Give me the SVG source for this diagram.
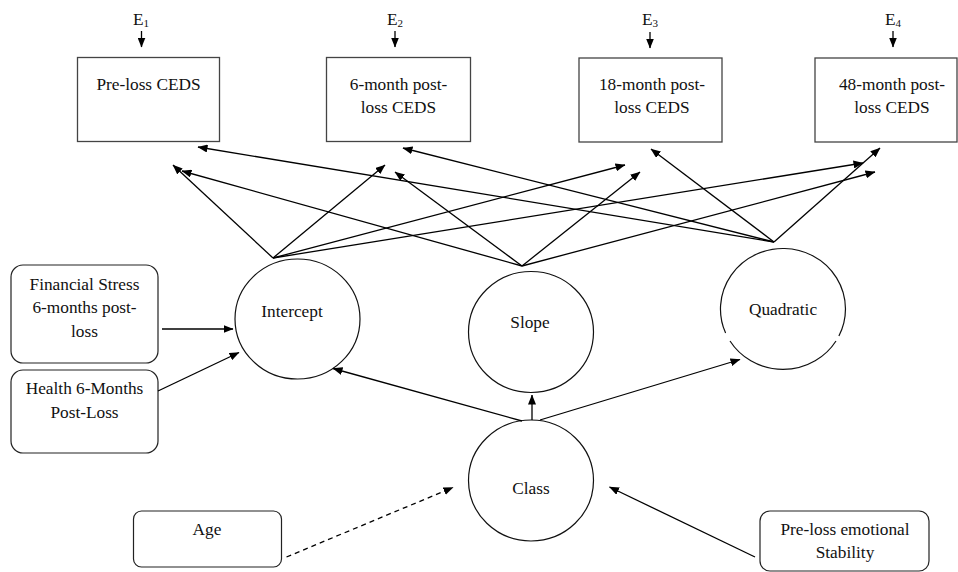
<svg xmlns="http://www.w3.org/2000/svg" width="958" height="572" viewBox="0 0 958 572">
<defs>
<style>
text{font-family:"Liberation Serif","Times New Roman",serif;font-size:17.3px;fill:#111;text-anchor:middle}
.sub{font-size:11px}
.box{fill:#fff;stroke:#444;stroke-width:1.3}
.rbox{fill:#fff;stroke:#222;stroke-width:1.2}
.lat{fill:#fff;stroke:#111;stroke-width:1.2}
.c line{stroke:#000;stroke-width:1.3;marker-end:url(#ah)}
.c line.d{stroke-dasharray:5,4}
</style>
<marker id="ah" viewBox="0 0 10 8" refX="9.5" refY="4" markerWidth="10" markerHeight="8" markerUnits="userSpaceOnUse" orient="auto">
<path d="M0,0 L10,4 L0,8 z" fill="#000"/>
</marker>
</defs>
<rect width="958" height="572" fill="#fff"/>

<g id="e1"><text x="141" y="25">E<tspan class="sub" dy="2">1</tspan></text></g>
<g id="e2"><text x="395" y="25">E<tspan class="sub" dy="2">2</tspan></text></g>
<g id="e3"><text x="650" y="25">E<tspan class="sub" dy="2">3</tspan></text></g>
<g id="e4"><text x="893" y="25">E<tspan class="sub" dy="2">4</tspan></text></g>

<g id="preloss-ceds"><rect class="box" x="77.5" y="57.5" width="142" height="84"/><text x="148.5" y="89.5">Pre-loss CEDS</text></g>
<g id="m6-ceds"><rect class="box" x="326.5" y="57.5" width="144" height="84"/><text x="398.5" y="89.5">6-month post-</text><text x="398.5" y="112.5">loss CEDS</text></g>
<g id="m18-ceds"><rect class="box" x="579" y="58" width="143" height="84"/><text x="652" y="90">18-month post-</text><text x="652" y="112.5">loss CEDS</text></g>
<g id="m48-ceds"><rect class="box" x="815" y="58" width="142" height="84"/><text x="892" y="90">48-month post-</text><text x="892" y="112.5">loss CEDS</text></g>

<g id="intercept"><ellipse class="lat" cx="297.5" cy="319" rx="62.5" ry="60"/><text x="292" y="317">Intercept</text></g>
<g id="slope"><ellipse class="lat" cx="531" cy="332" rx="62.5" ry="60.5"/><text x="530" y="328">Slope</text></g>
<g id="quadratic"><path class="lat" fill="none" d="M836,341 A62.5,60.5 0 0 1 730,341 M725.6,333 A62.5,60.5 0 1 1 838.9,336"/><text x="783" y="315">Quadratic</text></g>
<g id="class"><ellipse class="lat" cx="531" cy="480.5" rx="62.5" ry="60.5"/><text x="531" y="494">Class</text></g>

<g id="financial-stress"><rect class="rbox" x="11" y="265" width="147" height="98" rx="12"/><text x="84.5" y="290">Financial Stress</text><text x="84.5" y="313">6-months post-</text><text x="84.5" y="336.5">loss</text></g>
<g id="health"><rect class="rbox" x="11" y="370" width="147" height="83" rx="12"/><text x="84.5" y="394">Health 6-Months</text><text x="84.5" y="417.5">Post-Loss</text></g>
<g id="age"><rect class="rbox" x="133.5" y="511" width="148" height="56" rx="8"/><text x="207" y="535">Age</text></g>
<g id="emotional-stability"><rect class="rbox" x="760" y="511" width="169" height="60" rx="10"/><text x="845" y="535">Pre-loss emotional</text><text x="845" y="558">Stability</text></g>

<g id="connectors" class="c">
<line x1="141.5" y1="31" x2="141.5" y2="47"/>
<line x1="395" y1="31" x2="395" y2="47"/>
<line x1="650" y1="32" x2="650" y2="48"/>
<line x1="893" y1="31" x2="893" y2="47"/>

<line x1="273" y1="258" x2="173" y2="165"/>
<line x1="273" y1="258" x2="385" y2="165"/>
<line x1="273" y1="258" x2="625" y2="165"/>
<line x1="273" y1="258" x2="863" y2="163"/>

<line x1="522" y1="266" x2="182" y2="171"/>
<line x1="522" y1="266" x2="395" y2="172"/>
<line x1="522" y1="266" x2="640" y2="172"/>
<line x1="522" y1="266" x2="875" y2="172"/>

<line x1="774" y1="242" x2="198" y2="147"/>
<line x1="774" y1="242" x2="403" y2="148"/>
<line x1="774" y1="242" x2="651" y2="149"/>
<line x1="774" y1="242" x2="880" y2="148"/>

<line x1="162" y1="329" x2="233" y2="329"/>
<line x1="158" y1="391" x2="239" y2="352.5"/>

<line x1="522" y1="421" x2="333" y2="368.5"/>
<line x1="532" y1="420" x2="532" y2="395"/>
<line x1="540" y1="420" x2="740" y2="359.5"/>

<line class="d" x1="286.5" y1="557" x2="453" y2="487.5"/>
<line x1="755" y1="557" x2="609.5" y2="487"/>
</g>
</svg>
